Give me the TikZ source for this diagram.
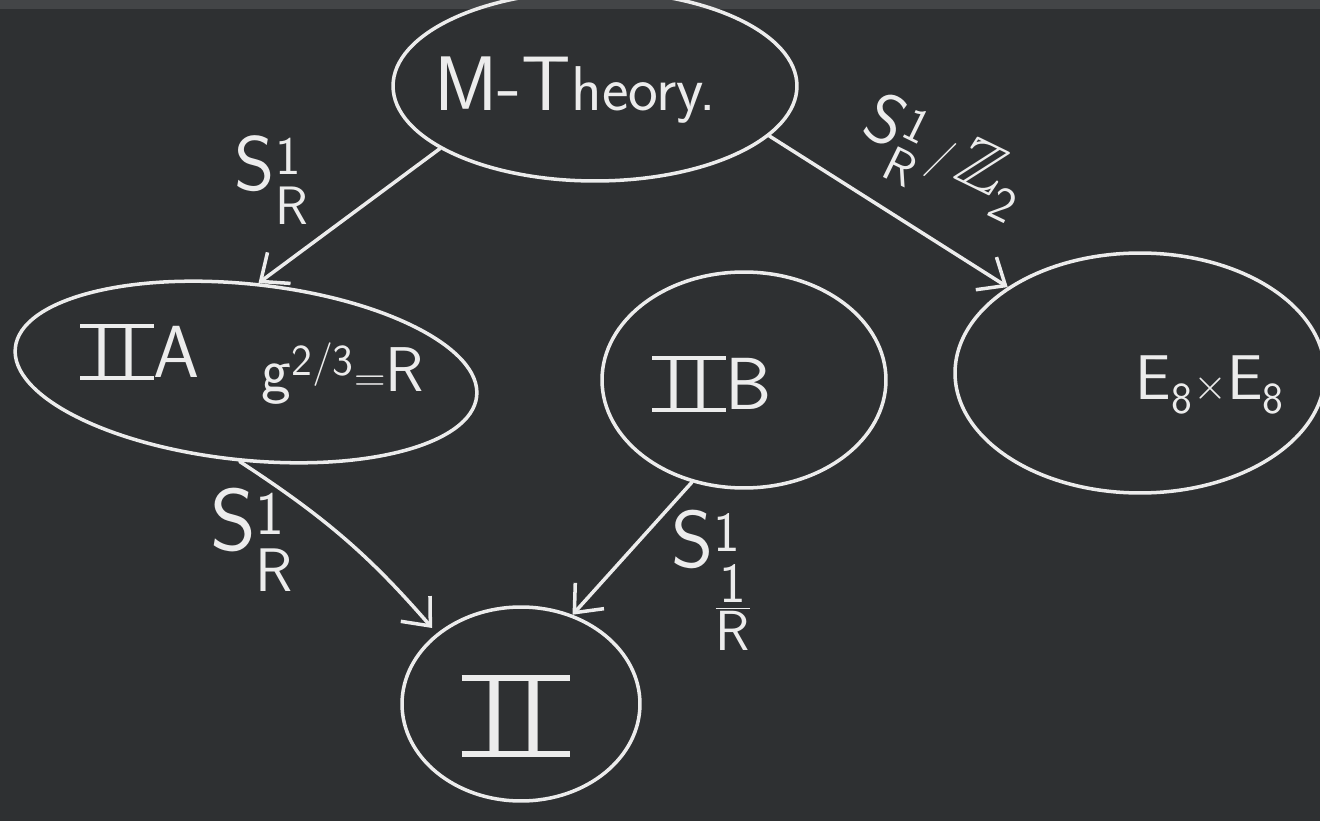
\documentclass[tikz,border=0pt]{standalone}
\usepackage{amsmath,amssymb}
\usepackage{fontspec}
\usetikzlibrary{shapes.geometric,arrows.meta}
\newcommand{\barII}{\leavevmode\hbox to 1em{\rlap{\rule[-0.03em]{1em}{0.05em}}\rlap{\rule[0.67em]{1em}{0.05em}}\hskip0.17em I\hskip0.1em I\hss}}
\definecolor{board}{HTML}{2E3032}
\definecolor{frame}{HTML}{434547}
\definecolor{chalk}{HTML}{ECECEC}
\tikzset{
  chalkline/.style={draw=chalk, line width=2pt},
  bubble/.style={chalkline, ellipse, inner sep=0pt},
  chalkarrow/.style={chalkline, line cap=round, -{Straight Barb[length=13pt,width=22pt,line width=2pt]}},
  lbl/.style={text=chalk, inner sep=0pt, font=\sffamily},
}
\begin{document}
\begin{tikzpicture}[x=0.02cm,y=-0.02cm]
\useasboundingbox (0,0) rectangle (1320,821);
\fill[board] (0,0) rectangle (1320,821);
\fill[frame] (0,0) rectangle (1320,9);

% ellipses
\node[bubble, minimum width=8.08cm, minimum height=3.8cm] (mt) at (595,86) {};
\node[bubble, minimum width=9.28cm, minimum height=3.52cm, rotate=-6] (iia) at (246,372) {};
\node[bubble, minimum width=5.68cm, minimum height=4.32cm] (iib) at (744,380) {};
\node[bubble, minimum width=7.4cm, minimum height=4.8cm] (e8) at (1140,373) {};
\node[bubble, minimum width=4.76cm, minimum height=3.88cm] (ii) at (521,704) {};

% texts
\node[lbl] (mtt) at (575,90) {{\fontsize{44}{48}\selectfont M-T}{\fontsize{36}{40}\selectfont heory.}};
\node[lbl] (iiat) at (140,352) {\fontsize{42}{46}\selectfont\barII A};
\node[lbl] (gt) at (343,374) {\fontsize{36}{40}\selectfont $\mathsf{g}^{\mathsf{2}/\mathsf{3}}{=}\mathsf{R}$};
\node[lbl] (iibt) at (712,384) {\fontsize{42}{46}\selectfont\barII B};
\node[lbl] (e8t) at (1210,385) {\fontsize{36}{40}\selectfont $\mathsf{E}_{\mathsf{8}}{\times}\mathsf{E}_{\mathsf{8}}$};
\node[lbl] (iit) at (516,716) {\fontsize{62}{68}\selectfont\barII};

% arrows
\draw[chalkarrow] (mt.202) -- (iia.88);
\draw[chalkarrow] (mt.-16) -- (e8.147);
\draw[chalkarrow, shorten >=4pt] (iia.-88) to[bend left=8] (ii.140);
\draw[chalkarrow] (iib.243) -- (ii.60);

% arrow labels
\node[lbl] (l1) at (272,180) {\fontsize{44}{48}\selectfont $\mathsf{S}^{\mathsf{1}}_{\mathsf{R}}$};
\node[lbl, rotate=-26] (l2) at (942,162) {\fontsize{40}{44}\selectfont $\mathsf{S}^{\mathsf{1}}_{\mathsf{R}}\,/\,\mathbb{Z}_{\mathsf{2}}$};
\node[lbl] (l3) at (252,540) {\fontsize{50}{54}\selectfont $\mathsf{S}^{\mathsf{1}}_{\mathsf{R}}$};
\node[lbl] (l4) at (712,580) {\fontsize{46}{50}\selectfont $\mathsf{S}^{\mathsf{1}}_{\genfrac{}{}{0.8pt}{1}{\mathsf{1}}{\mathsf{R}}}$};
\end{tikzpicture}
\end{document}
